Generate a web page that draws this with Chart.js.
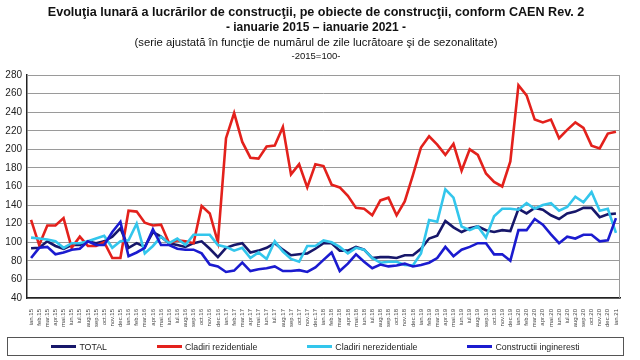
<!DOCTYPE html>
<html><head><meta charset="utf-8">
<script src="https://cdn.jsdelivr.net/npm/chart.js@4"></script>
<style>
body{margin:0;background:#fff;}
#wrap{position:relative;width:640px;height:360px;font-family:"Liberation Sans",Arial,sans-serif;color:#111;overflow:hidden;}
canvas{position:absolute;left:0;top:0;}
.t{position:absolute;left:0;width:632px;text-align:center;white-space:nowrap;line-height:1;}
#t1{top:6px;font-size:12.6px;font-weight:bold;}
#t2{top:21px;font-size:12px;font-weight:bold;}
#t3{top:37px;font-size:11.3px;}
#t4{top:51px;font-size:9.5px;}
#legend{position:absolute;left:7px;top:337px;width:615px;height:17px;border:1px solid #555;display:flex;justify-content:center;align-items:center;gap:50px;font-size:8.8px;color:#222;}
.li{display:flex;align-items:center;}
.sw{display:inline-block;width:25px;height:3px;margin-right:3px;}
</style></head>
<body>
<div id="wrap">
<canvas id="c" width="640" height="360"></canvas>
<div class="t" id="t1">Evoluţia lunară a lucrărilor de construcţii, pe obiecte de construcţii, conform CAEN Rev. 2</div>
<div class="t" id="t2">- ianuarie 2015 – ianuarie 2021 -</div>
<div class="t" id="t3">(serie ajustată în funcţie de numărul de zile lucrătoare şi de sezonalitate)</div>
<div class="t" id="t4">-2015=100-</div>
<div id="legend"></div>
</div>
<script>
const labels = [
 'ian.15','feb.15','mar.15','apr.15','mai.15','iun.15','iul.15','aug.15','sep.15','oct.15','nov.15','dec.15',
 'ian.16','feb.16','mar.16','apr.16','mai.16','iun.16','iul.16','aug.16','sep.16','oct.16','nov.16','dec.16',
 'ian.17','feb.17','mar.17','apr.17','mai.17','iun.17','iul.17','aug.17','sep.17','oct.17','nov.17','dec.17',
 'ian.18','feb.18','mar.18','apr.18','mai.18','iun.18','iul.18','aug.18','sep.18','oct.18','nov.18','dec.18',
 'ian.19','feb.19','mar.19','apr.19','mai.19','iun.19','iul.19','aug.19','sep.19','oct.19','nov.19','dec.19',
 'ian.20','feb.20','mar.20','apr.20','mai.20','iun.20','iul.20','aug.20','sep.20','oct.20','nov.20','dec.20',
 'ian.21'];
const seriesNames = ['TOTAL','Cladiri rezidentiale','Cladiri nerezidentiale','Constructii ingineresti'];
const seriesColors = ['#17176a','#e3211c','#33c6ec','#1b1bcf'];
const total = [93.5,94,101,96,93,97,97,101,99,101,106,115,
 94,99,95,111,106,99,97,95,99,101,93,84,
 94,97,99,89,91,94,99,92,86,87,88,93,
 99,99,91,91,95,92,83,84,84,83,86,86,
 93,104,107,123,116,111,115,117,113,111,113,112,
 136,131,137,135,129,125,131,133,137,137,127,130,
 131];
const rezidentiale = [124,97,118,118,126,94,106,96,96,100,83,83,
 134,133,121,118,119,99,102,101,99,139,131,100,
 212,239,208,191,190,203,204,224,173,184,159,184,
 182,162,159,150,137,136,129,145,148,129,144,172,
 202,214,205,194,206,177,200,194,174,165,160,187,
 269,258,232,229,232,212,221,229,223,204,201,217,
 219];
const nerezidentiale = [105,104,103,101,94,99,99,101,104,107,94,101,
 102,120,88,96,106,99,104,97,108,108,108,97,
 95,91,94,83,89,82,101,90,82,79,96,96,
 102,100,95,88,94,92,83,78,79,79,75.5,75,
 88,124,122,157,148,117,113,117,105,128,136,136,
 135,142,136,140,142,134,138,149,143,154,134,136,
 110];
const ingineresti = [83,94,95,87,89,92,93,101,97,97,111,122,
 85,89,94,114,97,97,93,92,92,88,76,74,
 68,69.5,78,69,71,72,74,69,69,70,68,73,
 81,89,69,77,87,79,72,76,74,75,77,74,
 75.5,78,83,95,85,92,95,99,99,87,87,80,
 113,113,125,119,108.5,99,106,104,108,108,101,102,
 126];
const seriesData = [total, rezidentiale, nerezidentiale, ingineresti];

// HTML legend
const lg = document.getElementById('legend');
seriesNames.forEach((n,i)=>{
  const d=document.createElement('div'); d.className='li';
  const s=document.createElement('span'); s.className='sw'; s.style.background=seriesColors[i];
  const t=document.createElement('span'); t.textContent=n;
  d.appendChild(s); d.appendChild(t); lg.appendChild(d);
});

const frame = {
  id:'frame',
  beforeDatasetsDraw(chart){
    const {ctx, chartArea:a} = chart;
    ctx.save();
    ctx.strokeStyle='#9a9a9a'; ctx.lineWidth=1;
    ctx.beginPath();
    ctx.moveTo(a.left, a.top+0.5); ctx.lineTo(a.right-0.5, a.top+0.5); ctx.lineTo(a.right-0.5, a.bottom);
    ctx.stroke();
    ctx.restore();
  }
};

new Chart(document.getElementById('c'), {
  type:'line',
  data:{
    labels: labels,
    datasets: seriesData.map((d,i)=>({
      label: seriesNames[i], data: d, borderColor: seriesColors[i], backgroundColor: seriesColors[i],
      borderWidth: 2.6, pointRadius: 0, tension: 0, fill: false, order: 3-i
    }))
  },
  options:{
    responsive:false, animation:false,
    layout:{padding:{top:75,right:20,left:0,bottom:0}},
    plugins:{legend:{display:false}, tooltip:{enabled:false}},
    scales:{
      x:{
        offset:true,
        grid:{display:false},
        border:{color:'#222',width:1.5},
        ticks:{autoSkip:false,maxRotation:90,minRotation:90,font:{family:'"Liberation Sans", Arial, sans-serif',size:6},color:'#444',padding:3},
        afterFit:s=>{s.height=62;}
      },
      y:{
        min:40,max:280,
        ticks:{stepSize:20,font:{family:'"Liberation Sans", Arial, sans-serif',size:10},color:'#222',padding:5},
        grid:{color:'#9a9a9a',drawTicks:false},
        border:{color:'#222',width:1.5},
        afterFit:s=>{s.width=27;}
      }
    }
  },
  plugins:[frame]
});
</script>
</body></html>
